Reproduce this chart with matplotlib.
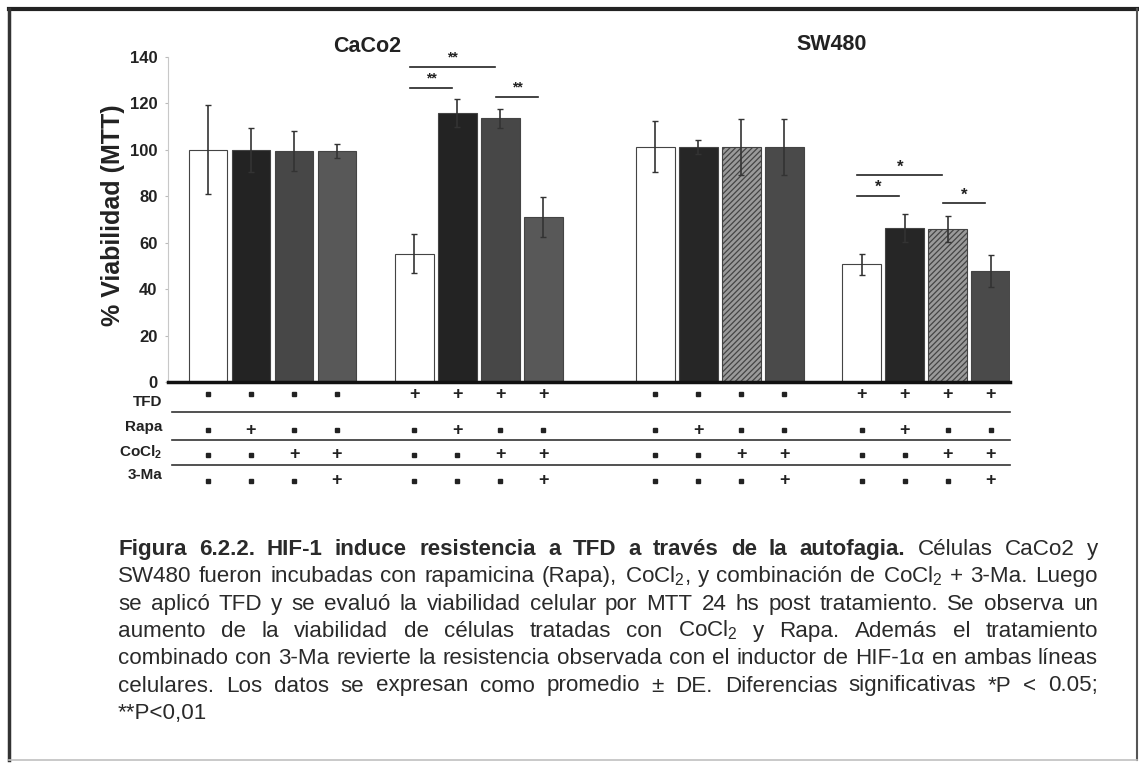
import numpy as np
import matplotlib.pyplot as plt
from matplotlib.transforms import blended_transform_factory
from matplotlib.lines import Line2D

W, H = 1139, 767
plt.rcParams['font.family'] = 'Liberation Sans'
plt.rcParams['mathtext.fontset'] = 'custom'
plt.rcParams['mathtext.rm'] = 'Liberation Sans'
plt.rcParams['mathtext.bf'] = 'Liberation Sans:bold'
plt.rcParams['mathtext.it'] = 'Liberation Sans:italic'
plt.rcParams['hatch.linewidth'] = 0.9
plt.rcParams['hatch.color'] = '#1a1a1a'

# ---- data ----
caco2_mean = [100, 100, 99.5, 99.5, 55.3, 115.7, 113.5, 70.9]
caco2_err = [19, 9.5, 8.5, 3, 8.5, 6, 4, 8.6]
sw480_mean = [101.3, 101, 101, 101, 50.6, 66.1, 65.8, 47.8]
sw480_err = [11, 3, 12, 12, 4.5, 6, 5.7, 6.8]

row_labels = ['TFD', 'Rapa', r'CoCl$_\mathbf{2}$', '3-Ma']
tfd = ['-', '-', '-', '-', '+', '+', '+', '+']
rapa = ['-', '+', '-', '-', '-', '+', '-', '-']
cocl2 = ['-', '-', '+', '+', '-', '-', '+', '+']
ma3 = ['-', '-', '-', '+', '-', '-', '-', '+']

# significance: (bar i, bar j, line y, label)
caco2_sig = [(4, 6, 135.5, '**'), (4, 5, 126.5, '**'), (6, 7, 122.8, '**')]
sw480_sig = [(4, 6, 89.0, '*'), (4, 5, 80.2, '*'), (6, 7, 76.9, '*')]

caption = [
    "Figura 6.2.2. HIF-1 induce resistencia a TFD a través de la autofagia. Células CaCo2 y",
    "SW480 fueron incubadas con rapamicina (Rapa), CoCl$_2$, y combinación de CoCl$_2$ + 3-Ma. Luego",
    "se aplicó TFD y se evaluó la viabilidad celular por MTT 24 hs post tratamiento. Se observa un",
    "aumento de la viabilidad de células tratadas con CoCl$_2$ y Rapa. Además el tratamiento",
    "combinado con 3-Ma revierte la resistencia observada con el inductor de HIF-1α en ambas líneas",
    "celulares. Los datos se expresan como promedio ± DE. Diferencias significativas *P < 0.05;",
    "**P<0,01",
]
n_bold = 12  # first words of caption that are bold

# ---- layout ----
offsets = [0, 4.8, 10.4, 15.2]
pos = np.concatenate([o + np.arange(4) for o in offsets])
caco2_x = pos[:8]
sw480_x = pos[8:]
caco2_fill = ['white', '#232323', '#474747', '#585858'] * 2
sw480_fill = ['white', '#262626', '#9a9a9a', '#4a4a4a'] * 2
sw480_hatch = [None, None, '//////', None] * 2

fig = plt.figure(figsize=(W / 100, H / 100), dpi=100)
x_left = (168 - 208) / 43
x_right = (1010 - 208) / 43
ax = fig.add_axes([168 / W, 1 - 382 / H, (1010 - 168) / W, (382 - 56.7) / H])

ax.bar(caco2_x, caco2_mean, width=0.9, color=caco2_fill, edgecolor='#444', linewidth=0.8)
for x, m, c, h in zip(sw480_x, sw480_mean, sw480_fill, sw480_hatch):
    ax.bar(x, m, width=0.9, color=c, edgecolor='#444', linewidth=0.8, hatch=h)
ax.errorbar(caco2_x, caco2_mean, yerr=caco2_err, fmt='none', ecolor='#333',
            elinewidth=1.2, capsize=2.5, capthick=1)
ax.errorbar(sw480_x, sw480_mean, yerr=sw480_err, fmt='none', ecolor='#333',
            elinewidth=1.2, capsize=2.5, capthick=1)

for xs, sig, fs in [(caco2_x, caco2_sig, 10), (sw480_x, sw480_sig, 12)]:
    for i, j, y, lab in sig:
        x0, x1 = xs[i] - 0.1, xs[j] - 0.12
        ax.plot([x0, x1], [y, y], color='#222', lw=1.2, clip_on=False)
        dy = 1.0 if lab == '**' else 0.2
        ax.text((x0 + x1) / 2, y + dy, lab, ha='center', va='bottom',
                fontsize=fs, fontweight='bold', color='#222')

ax.set_xlim(x_left, x_right)
ax.set_ylim(0, 140)
ax.set_yticks(np.arange(0, 141, 20))
ax.set_xticks([])
for lab in ax.get_yticklabels():
    lab.set_fontweight('bold')
ax.tick_params(axis='y', labelsize=12, length=2.5, width=0.8, color='#bbbbbb',
               pad=5, labelcolor='#222')
for s in ['top', 'right']:
    ax.spines[s].set_visible(False)
ax.spines['left'].set_color('#c8c8c8')
ax.spines['left'].set_linewidth(0.8)
ax.spines['bottom'].set_color('#111')
ax.spines['bottom'].set_linewidth(2.5)

fig.text(367 / W, 1 - 46 / H, 'CaCo2', ha='center', va='center', fontsize=15.5,
         fontweight='bold', color='#222')
fig.text(832 / W, 1 - 45 / H, 'SW480', ha='center', va='center', fontsize=15.5,
         fontweight='bold', color='#222')
fig.text(113 / W, 1 - 215 / H, '% Viabilidad (MTT)', rotation=90, ha='center',
         va='center', fontsize=18, fontweight='bold', color='#222')

# ---- treatment table under the bars ----
tr = blended_transform_factory(ax.transData, fig.transFigure)
sign_y = [394, 430, 455, 481]
label_y = [402, 427, 452, 475]
for signs, sy, name, ly in zip([tfd, rapa, cocl2, ma3], sign_y, row_labels, label_y):
    fig.text(162 / W, 1 - ly / H, name, ha='right', va='center', fontsize=11,
             fontweight='bold', color='#222')
    for x, s in zip(pos, signs * 2):
        if s == '+':
            ax.text(x, 1 - sy / H, '+', transform=tr, ha='center', va='center',
                    fontsize=13, fontweight='bold', color='#222', clip_on=False)
        else:
            ax.plot([x], [1 - sy / H], 's', ms=3, color='#222', transform=tr,
                    clip_on=False)
for ly in [412, 440, 465]:
    fig.add_artist(Line2D([172 / W, 1010 / W], [1 - ly / H] * 2, color='#333', lw=1.2))

# ---- frame ----
fig.add_artist(Line2D([9 / W, 1137 / W], [1 - 9 / H] * 2, color='#222', lw=3))
fig.add_artist(Line2D([9 / W, 9 / W], [1 - 9 / H, 1 - 760 / H], color='#333', lw=2.5))
fig.add_artist(Line2D([1137 / W, 1137 / W], [1 - 9 / H, 1 - 760 / H], color='#555', lw=1.5))
fig.add_artist(Line2D([9 / W, 1137 / W], [1 - 760 / H] * 2, color='#c0c0c0', lw=1.2))

# ---- justified caption ----
renderer = fig.canvas.get_renderer()
cap_x0, cap_x1 = 118, 1098
words = []
k = 0
for line in caption:
    ws = []
    for w in line.split():
        ws.append((w, k < n_bold))
        k += 1
    words.append(ws)


def measure(text, fs, bold):
    t = fig.text(0, 0, text, fontsize=fs, fontweight='bold' if bold else 'normal')
    w = t.get_window_extent(renderer).width
    t.remove()
    return w


fs0 = 12
space0 = measure('a a', fs0, False) - measure('aa', fs0, False)
nat = []
for ws in words[:-1]:
    nat.append(sum(measure(w, fs0, b) for w, b in ws) + space0 * (len(ws) - 1))
cap_fs = fs0 * (cap_x1 - cap_x0) / max(nat) * 0.99
space = space0 * cap_fs / fs0

base_y0, line_h = 555, 27.3
for li, ws in enumerate(words):
    widths = [measure(w, cap_fs, b) for w, b in ws]
    if li < len(words) - 1:
        gap = (cap_x1 - cap_x0 - sum(widths)) / (len(ws) - 1)
    else:
        gap = space
    x = cap_x0
    y = 1 - (base_y0 + li * line_h) / H
    for (w, b), wd in zip(ws, widths):
        fig.text(x / W, y, w, fontsize=cap_fs, fontweight='bold' if b else 'normal',
                 va='baseline', ha='left', color='#2a2a2a')
        x += wd + gap

fig.savefig('out.png', dpi=100)
